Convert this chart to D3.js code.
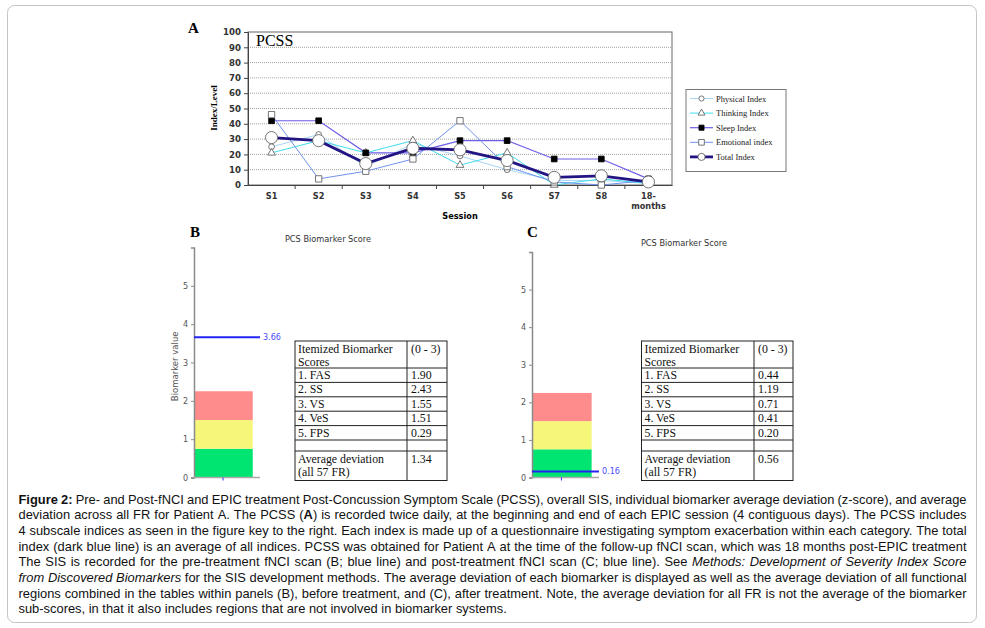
<!DOCTYPE html>
<html>
<head>
<meta charset="utf-8">
<script src="https://cdnjs.cloudflare.com/ajax/libs/d3/7.8.5/d3.min.js"></script>
<style>
body { margin: 0; background: #fff; }
svg { display: block; }
</style>
</head>
<body>
<svg id="fig" width="985" height="628"></svg>
<script>
// ---- panel A data (PCSS) ----
var sessions = ["S1", "S2", "S3", "S4", "S5", "S6", "S7", "S8", "18-months"];
var physicalIdx = [25, 33, 12, 27, 19, 10, 3, 3, 1];
var thinkingIdx = [21, 29, 21, 29, 13, 21, 0, 4, 1];
var sleepIdx = [42, 42, 21, 21, 29, 29, 17, 17, 4];
var emotionalIdx = [46, 4, 9, 17, 42, 12, 2, 0, 3];
var totalIdx = [31, 29, 14, 24, 23, 16, 5, 6, 2];
var pcssTicks = [0, 10, 20, 30, 40, 50, 60, 70, 80, 90, 100];
var legendNames = ["Physical Index", "Thinking Index", "Sleep Index", "Emotional index", "Total Index"];

// ---- panels B / C data (SIS) ----
var biomarkerTicks = [0, 1, 2, 3, 4, 5];
var zoneLow = [0, 0.75, 1.5];
var zoneHigh = [0.75, 1.5, 2.25];
var sisPre = 3.66;
var sisPost = 0.16;
var scoreNames = ["1. FAS", "2. SS", "3. VS", "4. VeS", "5. FPS"];
var scoresPre = ["1.90", "2.43", "1.55", "1.51", "0.29"];
var scoresPost = ["0.44", "1.19", "0.71", "0.41", "0.20"];
var avgDevPre = "1.34";
var avgDevPost = "0.56";

var svg = d3.select("#fig");
var serif = "'Liberation Serif', 'Times New Roman', serif";
var sans = "'Liberation Sans', Arial, sans-serif";
var dv = "'DejaVu Sans', Verdana, sans-serif";

// outer frame
svg.append("rect").attr("x", 7.5).attr("y", 5.5).attr("width", 969).attr("height", 617).attr("rx", 7)
  .style("fill", "none").style("stroke", "#c4c4c4");

// ================= Panel A =================
var x = d3.scaleBand().domain(sessions).range([248, 672]);
var y = d3.scaleLinear().domain([0, 100]).range([185, 32]);
var cx = function (d, i) { return x(sessions[i]) + x.bandwidth() / 2; };
var gA = svg.append("g");

gA.selectAll(".grid").data(pcssTicks.filter(function (d) { return d > 0 && d < 100; }))
  .enter().append("line")
  .attr("x1", 248).attr("x2", 672).attr("y1", y).attr("y2", y)
  .style("stroke", "#a0a0a0").style("stroke-width", 1).style("stroke-dasharray", "1,1");

gA.append("rect").attr("x", 248).attr("y", y(100)).attr("width", 424).attr("height", y(0) - y(100))
  .style("fill", "none").style("stroke", "#666").style("stroke-width", 1);

var yAx = gA.append("g").attr("transform", "translate(248,0)")
  .call(d3.axisLeft(y).tickValues(pcssTicks).tickSize(4).tickPadding(3));
yAx.select(".domain").style("stroke", "#444");
yAx.selectAll("line").style("stroke", "#444");
yAx.selectAll("text").style("font-family", dv).style("font-weight", "bold").style("font-size", "8.6px").style("fill", "#333");

var xAx = gA.append("g").attr("transform", "translate(0,185)")
  .call(d3.axisBottom(x).tickSize(0).tickPadding(8));
xAx.select(".domain").style("stroke", "#444");
xAx.selectAll("text").style("font-family", dv).style("font-weight", "bold").style("font-size", "8.2px").style("fill", "#333")
  .each(function (d) {
    if (d == "18-months") {
      var t = d3.select(this).text(null);
      t.append("tspan").attr("x", 0).attr("dy", "0.71em").text("18-");
      t.append("tspan").attr("x", 0).attr("dy", "1.2em").text("months");
    }
  });
// small ticks between sessions
gA.selectAll(".sep").data(sessions.slice(1)).enter().append("line")
  .attr("x1", function (d) { return x(d); }).attr("x2", function (d) { return x(d); })
  .attr("y1", 185).attr("y2", 189).style("stroke", "#444");

gA.append("text").attr("x", 188).attr("y", 33).text("A")
  .style("font-family", serif).style("font-weight", "bold").style("font-size", "15px");
gA.append("text").attr("x", 256).attr("y", 46).text("PCSS")
  .style("font-family", serif).style("font-size", "16px");
gA.append("text").attr("transform", "translate(217,108) rotate(-90)").attr("text-anchor", "middle").text("Index/Level")
  .style("font-family", serif).style("font-weight", "bold").style("font-size", "9px");
gA.append("text").attr("x", 460).attr("y", 219).attr("text-anchor", "middle").text("Session")
  .style("font-family", dv).style("font-weight", "bold").style("font-size", "8.2px");

var series = [
  { name: legendNames[0], values: physicalIdx, color: "#a9d6f2", width: 1, mark: "dot" },
  { name: legendNames[1], values: thinkingIdx, color: "#3fdcec", width: 1, mark: "tri" },
  { name: legendNames[2], values: sleepIdx, color: "#6d5ee8", width: 1.2, mark: "fsq" },
  { name: legendNames[3], values: emotionalIdx, color: "#6f93ee", width: 1, mark: "osq" },
  { name: legendNames[4], values: totalIdx, color: "#231483", width: 2.8, mark: "big" }
];

function marker(g, kind, px, py, s) {
  var sym = d3.symbol();
  var fill = "#fff", stroke = "#666";
  if (kind == "dot") sym.type(d3.symbolCircle).size(26 * s);
  if (kind == "tri") sym.type(d3.symbolTriangle).size(26 * s);
  if (kind == "fsq") { sym.type(d3.symbolSquare).size(32 * s); fill = "#000"; stroke = "#000"; }
  if (kind == "osq") sym.type(d3.symbolSquare).size(40 * s);
  if (kind == "big") sym.type(d3.symbolCircle).size(115 * s);
  g.append("path").attr("d", sym()).attr("transform", "translate(" + px + "," + py + ")")
    .style("fill", fill).style("stroke", stroke).style("stroke-width", 0.9);
}

var line = d3.line().x(cx).y(function (d) { return y(d); });
series.forEach(function (s) {
  gA.append("path").attr("d", line(s.values))
    .style("fill", "none").style("stroke", s.color).style("stroke-width", s.width);
});
series.forEach(function (s) {
  s.values.forEach(function (v, i) { marker(gA, s.mark, cx(v, i), y(v), 1); });
});

// legend
var lg = svg.append("g");
lg.append("rect").attr("x", 686).attr("y", 89.5).attr("width", 100).attr("height", 82)
  .style("fill", "#fff").style("stroke", "#777");
series.forEach(function (s, i) {
  var ly = 98.5 + i * 14.6;
  lg.append("line").attr("x1", 690).attr("x2", 713).attr("y1", ly).attr("y2", ly)
    .style("stroke", s.color).style("stroke-width", s.width);
  marker(lg, s.mark, 701.5, ly, s.mark == "big" ? 0.35 : 0.8);
  lg.append("text").attr("x", 716).attr("y", ly + 3).text(s.name)
    .style("font-family", serif).style("font-size", "8.5px").style("fill", "#222");
});

// ================= Panels B and C =================
var zoneColors = ["#00e472", "#f6f67a", "#ff8c8c"];

function drawSIS(cfg) {
  var g = svg.append("g");
  var yS = d3.scaleLinear().domain([0, 6]).range([477.5, cfg.top]);
  var xS = d3.scaleLinear().domain([0, 1]).range([cfg.left, cfg.right]);

  g.selectAll(".zone").data(zoneLow).enter().append("rect")
    .attr("x", xS(0)).attr("width", xS(0.89) - xS(0))
    .attr("y", function (d, i) { return yS(zoneHigh[i]); })
    .attr("height", function (d, i) { return yS(zoneLow[i]) - yS(zoneHigh[i]); })
    .style("fill", function (d, i) { return zoneColors[i]; });

  var ax = g.append("g").attr("transform", "translate(" + cfg.left + ",0)")
    .call(d3.axisLeft(yS).tickValues(biomarkerTicks).tickFormat(d3.format("d")).tickSize(3).tickPadding(3));
  ax.select(".domain").style("stroke", "#8a8a8a").style("stroke-width", 1.5);
  ax.selectAll("line").style("stroke", "#8a8a8a");
  ax.selectAll("text").style("font-family", dv).style("font-size", "8px").style("fill", "#555");

  g.append("line").attr("x1", xS(0)).attr("x2", xS(1)).attr("y1", yS(0)).attr("y2", yS(0))
    .style("stroke", "#aaa").style("stroke-width", 1.5);
  g.append("line").attr("x1", xS(0.44)).attr("x2", xS(0.44)).attr("y1", yS(0)).attr("y2", yS(0) + 3)
    .style("stroke", "#3030f0");

  g.append("line").attr("x1", xS(0)).attr("x2", xS(1)).attr("y1", yS(cfg.value)).attr("y2", yS(cfg.value))
    .style("stroke", "#2424f2").style("stroke-width", 2);
  g.append("text").attr("x", xS(1) + 3).attr("y", yS(cfg.value) + 3).text(cfg.value.toFixed(2))
    .style("font-family", dv).style("font-size", "8px").style("fill", "#4b4bff");

  g.append("text").attr("x", cfg.letterX).attr("y", 237).text(cfg.letter)
    .style("font-family", serif).style("font-weight", "bold").style("font-size", "15px");
  g.append("text").attr("x", cfg.titleX).attr("y", cfg.titleY).attr("text-anchor", "middle").text("PCS Biomarker Score")
    .style("font-family", dv).style("font-size", "8.2px").style("fill", "#333");
  if (cfg.yLabel) {
    g.append("text").attr("transform", "translate(178," + yS(2.9) + ") rotate(-90)").attr("text-anchor", "middle")
      .text("Biomarker value").style("font-family", dv).style("font-size", "8.5px").style("fill", "#555");
  }
}

drawSIS({ left: 194, right: 260, top: 247.5, value: sisPre, letter: "B", letterX: 190, titleX: 328, titleY: 242, yLabel: true });
drawSIS({ left: 532, right: 599, top: 252, value: sisPost, letter: "C", letterX: 527, titleX: 684, titleY: 246, yLabel: false });

// tables
function drawTable(left, mid, right, top, values, avg) {
  var g = svg.append("g");
  var rowH = 14.4;
  var bottom = 480.5;
  var bounds = [top, top + 27];
  for (var i = 0; i < 5; i++) bounds.push(bounds[bounds.length - 1] + rowH);
  bounds.push(bounds[bounds.length - 1] + 11);
  var st = function (sel) { return sel.style("font-family", serif).style("font-size", "11.8px").style("fill", "#111"); };

  g.append("rect").attr("x", left).attr("y", top).attr("width", right - left).attr("height", bottom - top)
    .style("fill", "none").style("stroke", "#222").style("stroke-width", 1);
  g.append("line").attr("x1", mid).attr("x2", mid).attr("y1", top).attr("y2", bottom).style("stroke", "#222");
  g.selectAll(".hl").data(bounds.slice(1)).enter().append("line")
    .attr("x1", left).attr("x2", right).attr("y1", function (d) { return d; }).attr("y2", function (d) { return d; })
    .style("stroke", "#222");

  st(g.append("text").attr("x", left + 3).attr("y", top + 12).text("Itemized Biomarker"));
  st(g.append("text").attr("x", left + 3).attr("y", top + 25).text("Scores"));
  st(g.append("text").attr("x", mid + 4).attr("y", top + 12).text("(0 - 3)"));
  scoreNames.forEach(function (n, i) {
    st(g.append("text").attr("x", left + 3).attr("y", bounds[i + 1] + 11).text(n));
    st(g.append("text").attr("x", mid + 4).attr("y", bounds[i + 1] + 11).text(values[i]));
  });
  st(g.append("text").attr("x", left + 3).attr("y", bounds[7] + 12).text("Average deviation"));
  st(g.append("text").attr("x", left + 3).attr("y", bounds[7] + 25).text("(all 57 FR)"));
  st(g.append("text").attr("x", mid + 4).attr("y", bounds[7] + 12).text(avg));
}
drawTable(295, 407, 447, 341, scoresPre, avgDevPre);
drawTable(641.5, 754, 793, 341, scoresPost, avgDevPost);

// ================= Caption =================
var capLines = [
  [["b", "Figure 2:"], ["n", " Pre- and Post-fNCI and EPIC treatment Post-Concussion Symptom Scale (PCSS), overall SIS, individual biomarker average deviation (z-score), and average"]],
  [["n", "deviation across all FR for Patient A. The PCSS ("], ["b", "A"], ["n", ") is recorded twice daily, at the beginning and end of each EPIC session (4 contiguous days). The PCSS includes"]],
  [["n", "4 subscale indices as seen in the figure key to the right. Each index is made up of a questionnaire investigating symptom exacerbation within each category. The total"]],
  [["n", "index (dark blue line) is an average of all indices. PCSS was obtained for Patient A at the time of the follow-up fNCI scan, which was 18 months post-EPIC treatment"]],
  [["n", "The SIS is recorded for the pre-treatment fNCI scan (B; blue line) and post-treatment fNCI scan (C; blue line). See "], ["i", "Methods: Development of Severity Index Score"]],
  [["i", "from Discovered Biomarkers"], ["n", " for the SIS development methods. The average deviation of each biomarker is displayed as well as the average deviation of all functional"]],
  [["n", "regions combined in the tables within panels (B), before treatment, and (C), after treatment. Note, the average deviation for all FR is not the average of the biomarker"]],
  [["n", "sub-scores, in that it also includes regions that are not involved in biomarker systems."]]
];

function tokenize(segs) {
  var words = [[]];
  segs.forEach(function (s) {
    s[1].split(" ").forEach(function (p, i) {
      if (i > 0) words.push([]);
      if (p.length) words[words.length - 1].push({ t: p, st: s[0] });
    });
  });
  return words.filter(function (w) { return w.length; });
}

var capG = svg.append("g").style("font-family", sans).style("font-size", "12.9px").style("fill", "#111");
var capLeft = 18.5, capRight = 966.5;
capLines.forEach(function (segs, li) {
  var by = 503.5 + li * 15.7;
  var words = tokenize(segs);
  var nodes = words.map(function (w) {
    var t = capG.append("text").attr("y", by);
    w.forEach(function (p) {
      t.append("tspan").text(p.t)
        .style("font-weight", p.st == "b" ? "bold" : null)
        .style("font-style", p.st == "i" ? "italic" : null);
    });
    return t;
  });
  var widths = nodes.map(function (t) { return t.node().getComputedTextLength(); });
  var total = d3.sum(widths);
  var gap = li < capLines.length - 1 ? (capRight - capLeft - total) / (words.length - 1) : 3.6;
  var px = capLeft;
  nodes.forEach(function (t, i) { t.attr("x", px); px += widths[i] + gap; });
});
</script>
</body>
</html>
